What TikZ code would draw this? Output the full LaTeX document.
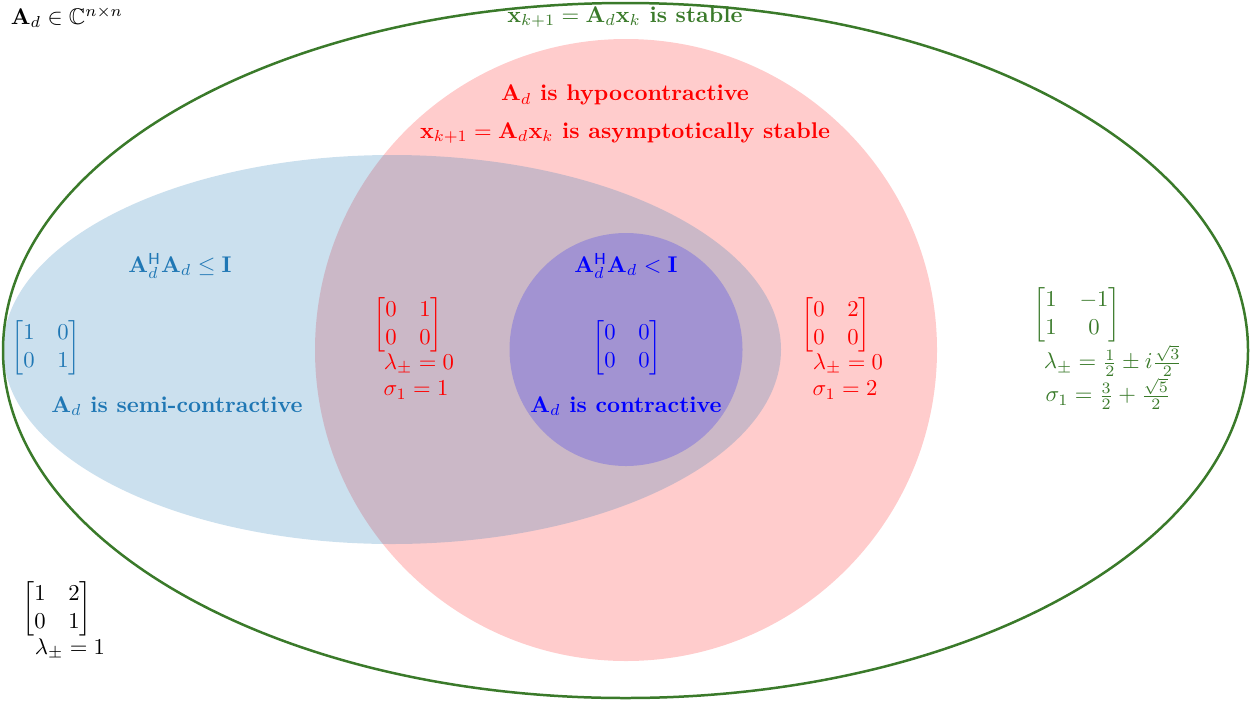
\documentclass[tikz,border=0pt]{standalone}
\usepackage{amsmath,amssymb}
\usetikzlibrary{positioning}
\definecolor{vnngreen}{HTML}{3A7A2A}
\definecolor{vnnblue}{HTML}{1F77B4}
\definecolor{vnnred}{HTML}{FF0000}
\definecolor{vnnpure}{HTML}{0000FF}
\tikzset{
  vnn/.style={font=\normalsize, text=black},
  vnnlbl/.style={font=\bfseries, inner sep=0.5pt},
  vnnmath/.style={inner sep=0.5pt},
}
\newcommand{\Ad}{\mathbf{A}_d}
\newcommand{\xvec}[1]{\mathbf{x}_{#1}}

\begin{document}
\begin{tikzpicture}[vnn, x=0.015483cm, y=-0.015483cm]
  \useasboundingbox (0,0) rectangle (1253,700);
  % the nested sets
  \fill[vnnred, fill opacity=0.2] (626,350) circle[radius=311];
  \fill[vnnblue, fill opacity=0.23] (392,349.5) ellipse[x radius=389, y radius=194.5];
  \fill[vnnpure, fill opacity=0.2] (626,349.5) circle[radius=116.5];
  \draw[vnngreen, line width=1.1pt] (625.5,350.5) ellipse[x radius=622.5, y radius=347.5];
  % set labels
  \node[vnnmath] (space) at (67,17) {$\Ad \in \mathbb{C}^{n\times n}$};
  \node[vnnlbl, text=vnngreen] (stable) at (625,17) {$\xvec{k+1} = \Ad\xvec{k}$ is stable};
  \node[vnnlbl, text=vnnred] (hypo) at (625,95) {$\Ad$ is hypocontractive};
  \node[vnnlbl, text=vnnred] (asym) at (625,133) {$\xvec{k+1} = \Ad\xvec{k}$ is asymptotically stable};
  \node[vnnlbl, text=vnnblue] (semicond) at (180,266) {$\Ad^{\mathsf{H}}\Ad \le \mathbf{I}$};
  \node[vnnlbl, text=vnnblue] (semi) at (177,406) {$\Ad$ is semi-contractive};
  \node[vnnlbl, text=vnnpure] (contcond) at (626,266) {$\Ad^{\mathsf{H}}\Ad < \mathbf{I}$};
  \node[vnnlbl, text=vnnpure] (cont) at (626,406) {$\Ad$ is contractive};
  % examples
  \node[vnnmath, text=vnnblue] (ident) at (46,348) {$\begin{bmatrix}1 & 0\\ 0 & 1\end{bmatrix}$};
  \node[vnnmath, text=vnnred] (nilone) at (408,325) {$\begin{bmatrix}0 & 1\\ 0 & 0\end{bmatrix}$};
  \node[vnnmath, text=vnnred] (nilonelam) at (419,364) {$\lambda_\pm = 0$};
  \node[vnnmath, text=vnnred] (nilonesig) at (416,390) {$\sigma_1 = 1$};
  \node[vnnmath, text=vnnpure] (zero) at (627,348) {$\begin{bmatrix}0 & 0\\ 0 & 0\end{bmatrix}$};
  \node[vnnmath, text=vnnred] (niltwo) at (836,325) {$\begin{bmatrix}0 & 2\\ 0 & 0\end{bmatrix}$};
  \node[vnnmath, text=vnnred] (niltwolam) at (848,364) {$\lambda_\pm = 0$};
  \node[vnnmath, text=vnnred] (niltwosig) at (845,390) {$\sigma_1 = 2$};
  \node[vnnmath, text=vnngreen] (rot) at (1077,315) {$\begin{bmatrix}1 & -1\\ 1 & 0\end{bmatrix}$};
  \node[vnnmath, text=vnngreen] (rotlam) at (1113,361) {$\lambda_\pm = \frac{1}{2} \pm i\frac{\sqrt{3}}{2}$};
  \node[vnnmath, text=vnngreen] (rotsig) at (1108,394) {$\sigma_1 = \frac{3}{2} + \frac{\sqrt{5}}{2}$};
  \node[vnnmath] (jordan) at (57,609) {$\begin{bmatrix}1 & 2\\ 0 & 1\end{bmatrix}$};
  \node[vnnmath] (jordanlam) at (70,649) {$\lambda_\pm = 1$};
\end{tikzpicture}
\end{document}
